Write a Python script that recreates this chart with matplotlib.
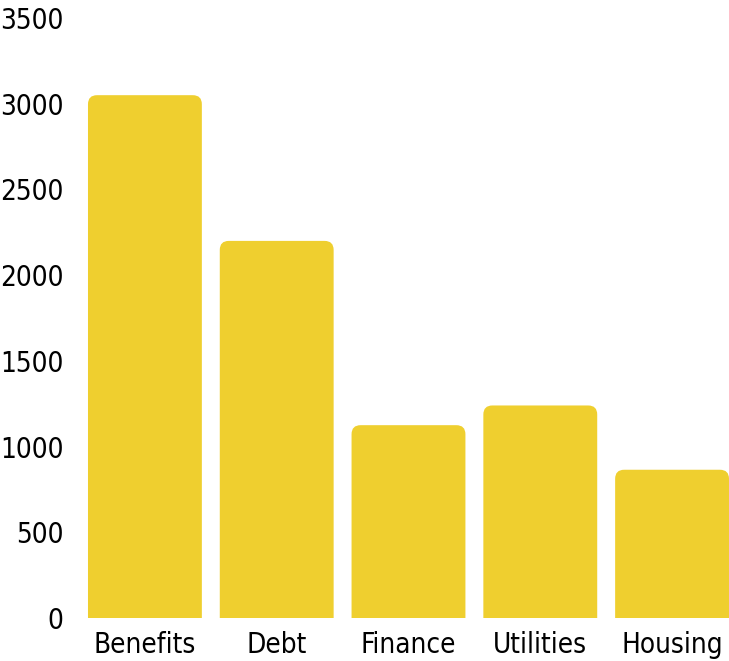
import matplotlib.pyplot as plt
from matplotlib.patches import FancyBboxPatch

# spending by category
categories = ['Benefits', 'Debt', 'Finance', 'Utilities', 'Housing']
values = [3050, 2200, 1125, 1240, 865]

bar_color = '#EFCF2F'
bar_width = 0.864

plt.rcParams['font.family'] = ['DejaVu Sans']
plt.rcParams['font.stretch'] = 'condensed'

fig = plt.figure(figsize=(7.29, 6.61), dpi=100)
ax = fig.add_axes([0.1084, 0.065, 0.8916, 0.9077])

ax.set_xlim(-0.5, len(categories) - 1 + bar_width / 2)
ax.set_ylim(0, 3500)

# pixels per data unit, so the rounded corners come out circular
fig.canvas.draw()
bbox = ax.get_window_extent()
x_px = bbox.width / (ax.get_xlim()[1] - ax.get_xlim()[0])
y_px = bbox.height / (ax.get_ylim()[1] - ax.get_ylim()[0])
radius = 9 / x_px
aspect = x_px / y_px

for i, v in enumerate(values):
    below = 20 / y_px  # push the bottom corners under the axis so only the top is rounded
    patch = FancyBboxPatch((i - bar_width / 2, -below), bar_width, v + below,
                           boxstyle=f'round,pad=0,rounding_size={radius}',
                           mutation_aspect=aspect,
                           facecolor=bar_color, edgecolor='none')
    ax.add_patch(patch)

ax.set_xticks(range(len(categories)))
ax.set_xticklabels(categories)
ax.set_yticks(range(0, 3501, 500))
ax.tick_params(axis='both', length=0, labelsize=20, colors='black')
ax.tick_params(axis='y', pad=11)
ax.tick_params(axis='x', pad=9)

for s in ax.spines.values():
    s.set_visible(False)

fig.savefig('out.png', dpi=100)
